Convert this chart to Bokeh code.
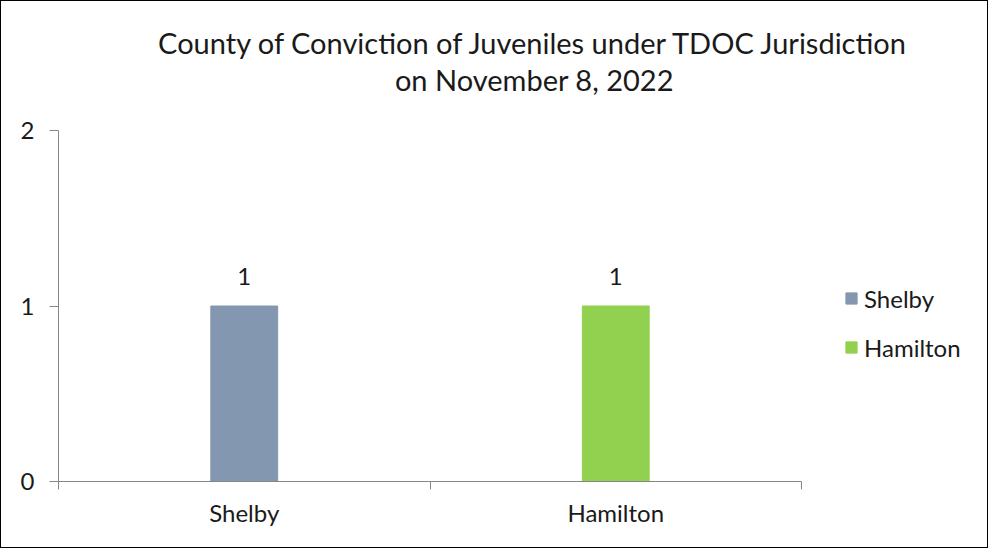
from bokeh.plotting import figure
from bokeh.models import (ColumnDataSource, Range1d, FixedTicker, Label, Legend, LegendItem)
from bokeh.embed import file_html
from bokeh.resources import INLINE
from bokeh.core.properties import value

# ---- data ----
counties = ["Shelby", "Hamilton"]
counts = [1, 1]
colors = ["#8497B0", "#92D050"]
y_ticks = [0, 1, 2]
y_max = 2
title_lines = ["County of Conviction of Juveniles under TDOC Jurisdiction",
               "on November 8, 2022"]

FONT = "Lato"
TXT = "#1a1a1a"
AX = "#868686"
FS = "24px"

# ---- layout (pixels) ----
LEFT, BOTTOM = 57, 66          # room for the axes
FW, FH = 929, 480              # frame extends to the right/top edges
CAT_W, VAL_H = 743, 351        # pixel extent of the category / value region

n = len(counties)
xs = [i + 0.5 for i in range(n)]
src = ColumnDataSource(dict(x=xs, top=counts, color=colors, county=counties,
                            lab=[str(c) for c in counts]))

p = figure(frame_width=FW, frame_height=FH, output_backend="svg",
           toolbar_location=None,
           x_range=Range1d(0, n * FW / CAT_W), y_range=Range1d(0, y_max * FH / VAL_H),
           min_border_left=LEFT, min_border_right=0, min_border_top=0,
           min_border_bottom=BOTTOM)
p.outline_line_color = None
p.xgrid.visible = False
p.ygrid.visible = False
p.styles = {"border": "1.5px solid #000", "box-sizing": "border-box"}

r = p.vbar(x="x", top="top", width=0.18, color="color", source=src)
p.text(x="x", y="top", text="lab", source=src, y_offset=-30,
       text_align="center", text_baseline="alphabetic",
       text_font=value(FONT), text_font_size=FS, text_color=TXT)

# y axis
ya = p.yaxis[0]
ya.bounds = (0, y_max)
ya.ticker = FixedTicker(ticks=y_ticks)
ya.axis_line_color = AX
ya.major_tick_line_color = AX
ya.major_tick_out = 9
ya.major_tick_in = 0
ya.minor_tick_line_color = None
ya.major_label_standoff = 15
ya.major_label_text_font = FONT
ya.major_label_text_font_size = FS
ya.major_label_text_color = TXT

# x axis
xa = p.xaxis[0]
xa.bounds = (0, n)
xa.ticker = FixedTicker(ticks=xs, minor_ticks=list(range(n + 1)))
xa.major_label_overrides = {x: c for x, c in zip(xs, counties)}
xa.axis_line_color = AX
xa.major_tick_line_color = None
xa.minor_tick_line_color = AX
xa.minor_tick_out = 8
xa.minor_tick_in = 0
xa.major_label_standoff = 8
xa.major_label_text_font = FONT
xa.major_label_text_font_size = FS
xa.major_label_text_color = TXT

# title lines (screen units from the frame's bottom-left corner)
for t, yy in zip(title_lines, [439, 402]):
    p.add_layout(Label(x=476, y=yy, x_units="screen", y_units="screen", text=t,
                       text_align="center", text_baseline="alphabetic",
                       text_font=FONT, text_font_size="29px", text_color=TXT))

legend = Legend(items=[LegendItem(label=c, renderers=[r], index=i)
                       for i, c in enumerate(counties)],
                location=(786, 119), orientation="vertical",
                glyph_width=14, glyph_height=14, label_height=30, spacing=19,
                label_standoff=6, padding=0, margin=0,
                border_line_color=None, background_fill_alpha=0,
                label_text_font=FONT, label_text_font_size=FS,
                label_text_color=TXT)
p.add_layout(legend)

open("out.html", "w").write(file_html(p, INLINE))
